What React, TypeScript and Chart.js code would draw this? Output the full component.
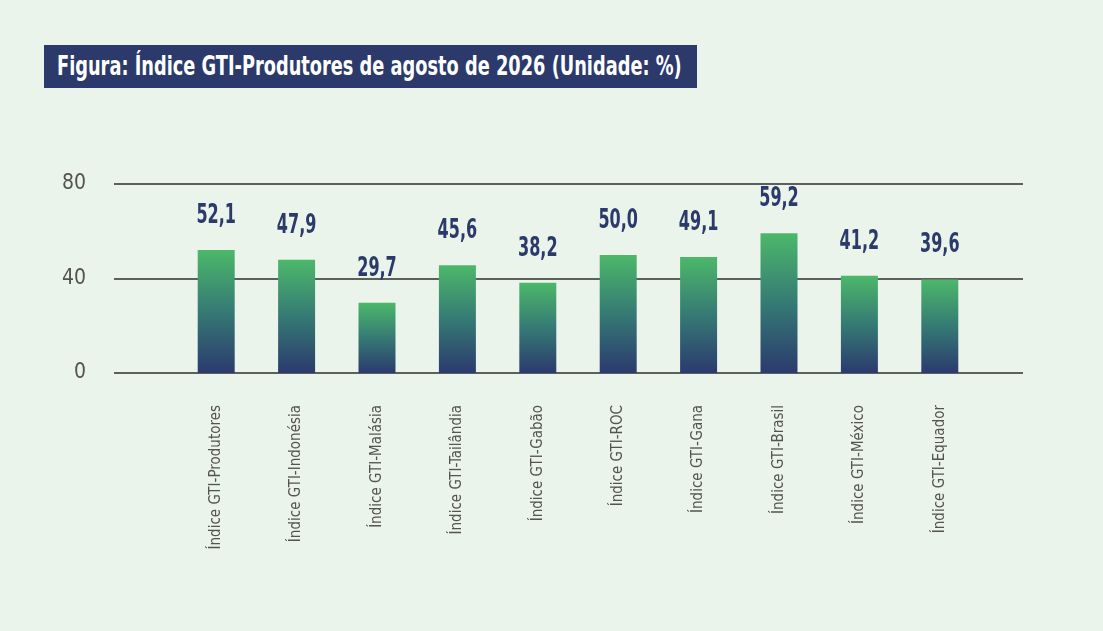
import { useEffect, useRef } from "react"
import { Chart, registerables } from "chart.js"

Chart.register(...registerables)

const categories = [
  "Índice GTI-Produtores",
  "Índice GTI-Indonésia",
  "Índice GTI-Malásia",
  "Índice GTI-Tailândia",
  "Índice GTI-Gabão",
  "Índice GTI-ROC",
  "Índice GTI-Gana",
  "Índice GTI-Brasil",
  "Índice GTI-México",
  "Índice GTI-Equador",
]
const values = [52.1, 47.9, 29.7, 45.6, 38.2, 50.0, 49.1, 59.2, 41.2, 39.6]
const yTicks = [0, 40, 80]

const NARROW = '"Liberation Sans Narrow", "DejaVu Sans Condensed", "Roboto", sans-serif'
const NAVY = "#2b3a6b"
const BG = "#eaf4ea"

const fmt = (v: number) => v.toFixed(1).replace(".", ",")

const gridPlugin = {
  id: "wideGrid",
  beforeDatasetsDraw(chart: any) {
    const { ctx, scales } = chart
    ctx.save()
    ctx.strokeStyle = "#5b605d"
    ctx.lineWidth = 2
    yTicks.forEach((t) => {
      const y = Math.round(scales.y.getPixelForValue(t))
      ctx.beginPath()
      ctx.moveTo(114, y)
      ctx.lineTo(1023, y)
      ctx.stroke()
    })
    ctx.restore()
  },
}

// value labels, squeezed horizontally to look like the condensed face
const valueLabels = {
  id: "valueLabels",
  afterDatasetsDraw(chart: any) {
    const { ctx } = chart
    const meta = chart.getDatasetMeta(0)
    meta.data.forEach((bar: any, i: number) => {
      ctx.save()
      ctx.translate(bar.x, bar.y - 27)
      ctx.scale(0.66, 1)
      ctx.fillStyle = NAVY
      ctx.font = `bold 27px ${NARROW}`
      ctx.textAlign = "center"
      ctx.textBaseline = "alphabetic"
      ctx.fillText(fmt(values[i]), 0, 0)
      ctx.restore()
    })
  },
}

export default function App() {
  const canvasRef = useRef<HTMLCanvasElement>(null)

  useEffect(() => {
    const canvas = canvasRef.current
    if (!canvas) return

    const chart = new Chart(canvas, {
      type: "bar",
      data: {
        labels: categories,
        datasets: [
          {
            data: values,
            barPercentage: 0.46,
            categoryPercentage: 1,
            backgroundColor: (c: any) => {
              const ch = c.chart
              const ys = ch.scales?.y
              if (!ys || c.raw == null) return "#347a74"
              const top = ys.getPixelForValue(c.raw)
              const bottom = ys.getPixelForValue(0)
              if (!Number.isFinite(top) || !Number.isFinite(bottom) || top === bottom) return "#347a74"
              const g = ch.ctx.createLinearGradient(0, top, 0, bottom)
              g.addColorStop(0, "#4cb86a")
              g.addColorStop(0.5, "#357a74")
              g.addColorStop(1, "#2b3a6e")
              return g
            },
          },
        ],
      },
      options: {
        responsive: false,
        animation: false,
        layout: { padding: { left: 60, right: 123, top: 184, bottom: 0 } },
        plugins: { legend: { display: false }, tooltip: { enabled: false } },
        scales: {
          x: {
            grid: { display: false, drawTicks: false },
            border: { display: false },
            ticks: {
              minRotation: 90,
              maxRotation: 90,
              padding: 32,
              color: "#55534f",
              font: { family: NARROW, size: 15 },
            },
            afterFit: (s: any) => {
              s.height = 258
            },
          },
          y: {
            min: 0,
            max: 80,
            grid: { display: false, drawTicks: false },
            border: { display: false },
            ticks: {
              stepSize: 40,
              padding: 90,
              color: "#55534f",
              font: { family: NARROW, size: 21 },
            },
            afterFit: (s: any) => {
              s.width = 116
            },
          },
        },
      },
      plugins: [gridPlugin, valueLabels],
    })

    return () => chart.destroy()
  }, [])

  return (
    <div style={{ position: "absolute", left: 0, top: 0, width: 1103, height: 631, background: BG }}>
      <div
        style={{
          position: "absolute",
          left: 44,
          top: 45,
          width: 653,
          height: 43,
          background: NAVY,
          color: "#ffffff",
          fontFamily: NARROW,
          fontWeight: "bold",
          fontSize: 26,
          lineHeight: "43px",
          paddingLeft: 13,
          boxSizing: "border-box",
          whiteSpace: "nowrap",
          overflow: "hidden",
        }}
      >
        <span style={{ display: "inline-block", transform: "scaleX(0.76)", transformOrigin: "left center" }}>
          Figura: Índice GTI-Produtores de agosto de 2026 (Unidade: %)
        </span>
      </div>
      <canvas ref={canvasRef} width={1103} height={631} style={{ position: "absolute", left: 0, top: 0 }} />
    </div>
  )
}
